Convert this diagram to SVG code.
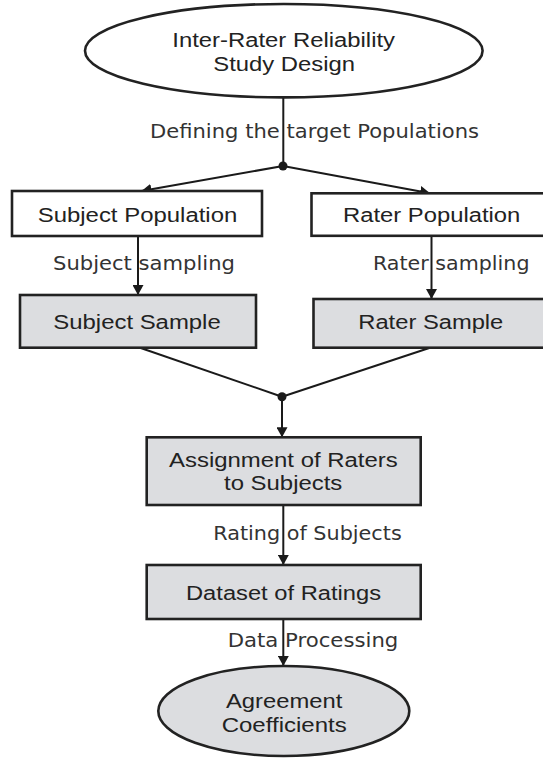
<svg xmlns="http://www.w3.org/2000/svg" width="543" height="758" viewBox="0 0 543 758">
<defs>
<marker id="arr" viewBox="0 0 10 11" refX="10" refY="5.5" markerWidth="10" markerHeight="11" markerUnits="userSpaceOnUse" orient="auto">
<path d="M0,0 L10,5.5 L0,11 z" fill="#1a1a1a"/>
</marker>
<style>
.box{stroke:#222;stroke-width:2.6;}
.white{fill:#ffffff;}
.gray{fill:#dcdde0;}
.t{font-family:"Liberation Sans",Arial,sans-serif;font-size:20px;fill:#222;text-anchor:start;}
.lbl{font-family:"DejaVu Sans","Open Sans",sans-serif;font-size:19px;fill:#333;text-anchor:start;}
.c{stroke:#1a1a1a;stroke-width:2;fill:none;}
.dot{fill:#1a1a1a;}
</style>
</defs>
<rect width="543" height="758" fill="#ffffff"/>

<g id="labels">
<text class="lbl" x="150" y="137.7" textLength="329" lengthAdjust="spacingAndGlyphs">Defining the target Populations</text>
<text class="lbl" x="53" y="270" textLength="182" lengthAdjust="spacingAndGlyphs">Subject sampling</text>
<text class="lbl" x="373" y="270" textLength="156.5" lengthAdjust="spacingAndGlyphs">Rater sampling</text>
<text class="lbl" x="213.3" y="540" textLength="188.4" lengthAdjust="spacingAndGlyphs">Rating of Subjects</text>
<text class="lbl" x="227.7" y="646.7" textLength="170.6" lengthAdjust="spacingAndGlyphs">Data Processing</text>
</g>

<g id="connectors">
<line class="c" x1="283.3" y1="97.5" x2="283.3" y2="166"/>
<line class="c" x1="283" y1="166" x2="141.5" y2="191" marker-end="url(#arr)"/>
<line class="c" x1="283" y1="166" x2="430" y2="193.3" marker-end="url(#arr)"/>
<circle class="dot" cx="283" cy="166" r="4.5"/>
<line class="c" x1="138" y1="236" x2="138" y2="295" marker-end="url(#arr)"/>
<line class="c" x1="431.5" y1="236" x2="431.5" y2="299" marker-end="url(#arr)"/>
<line class="c" x1="140" y1="347.7" x2="282" y2="396.7"/>
<line class="c" x1="430" y1="347.7" x2="282" y2="396.7"/>
<circle class="dot" cx="282" cy="396.7" r="4.5"/>
<line class="c" x1="282" y1="396.7" x2="282" y2="437.3" marker-end="url(#arr)"/>
<line class="c" x1="283.3" y1="505" x2="283.3" y2="565" marker-end="url(#arr)"/>
<line class="c" x1="283.3" y1="619" x2="283.3" y2="666" marker-end="url(#arr)"/>
</g>

<g id="study-design">
<ellipse class="box white" cx="283.8" cy="50.7" rx="198.8" ry="46.7"/>
<text class="t" x="172.3" y="46.7" textLength="222.7" lengthAdjust="spacingAndGlyphs">Inter-Rater Reliability</text>
<text class="t" x="213.3" y="70.7" textLength="141.7" lengthAdjust="spacingAndGlyphs">Study Design</text>
</g>

<g id="subject-population">
<rect class="box white" x="12" y="191" width="250" height="45"/>
<text class="t" x="37.7" y="221.7" textLength="199.6" lengthAdjust="spacingAndGlyphs">Subject Population</text>
</g>

<g id="rater-population">
<rect class="box white" x="311.5" y="193.3" width="240" height="42.5"/>
<text class="t" x="343" y="222" textLength="177.3" lengthAdjust="spacingAndGlyphs">Rater Population</text>
</g>

<g id="subject-sample">
<rect class="box gray" x="20" y="295" width="236" height="52.7"/>
<text class="t" x="53.3" y="329.3" textLength="167.4" lengthAdjust="spacingAndGlyphs">Subject Sample</text>
</g>

<g id="rater-sample">
<rect class="box gray" x="313.5" y="299" width="240" height="48.7"/>
<text class="t" x="358.3" y="328.5" textLength="145" lengthAdjust="spacingAndGlyphs">Rater Sample</text>
</g>

<g id="assignment">
<rect class="box gray" x="146.7" y="437.3" width="274" height="67.7"/>
<text class="t" x="169" y="466.7" textLength="228.7" lengthAdjust="spacingAndGlyphs">Assignment of Raters</text>
<text class="t" x="224" y="490" textLength="118.3" lengthAdjust="spacingAndGlyphs">to Subjects</text>
</g>

<g id="dataset">
<rect class="box gray" x="146.7" y="565" width="274" height="54"/>
<text class="t" x="186" y="600" textLength="195" lengthAdjust="spacingAndGlyphs">Dataset of Ratings</text>
</g>

<g id="agreement">
<ellipse class="box gray" cx="283.8" cy="711" rx="125.5" ry="45"/>
<text class="t" x="226" y="708.3" textLength="116.3" lengthAdjust="spacingAndGlyphs">Agreement</text>
<text class="t" x="221.7" y="731.7" textLength="125" lengthAdjust="spacingAndGlyphs">Coefficients</text>
</g>
</svg>
